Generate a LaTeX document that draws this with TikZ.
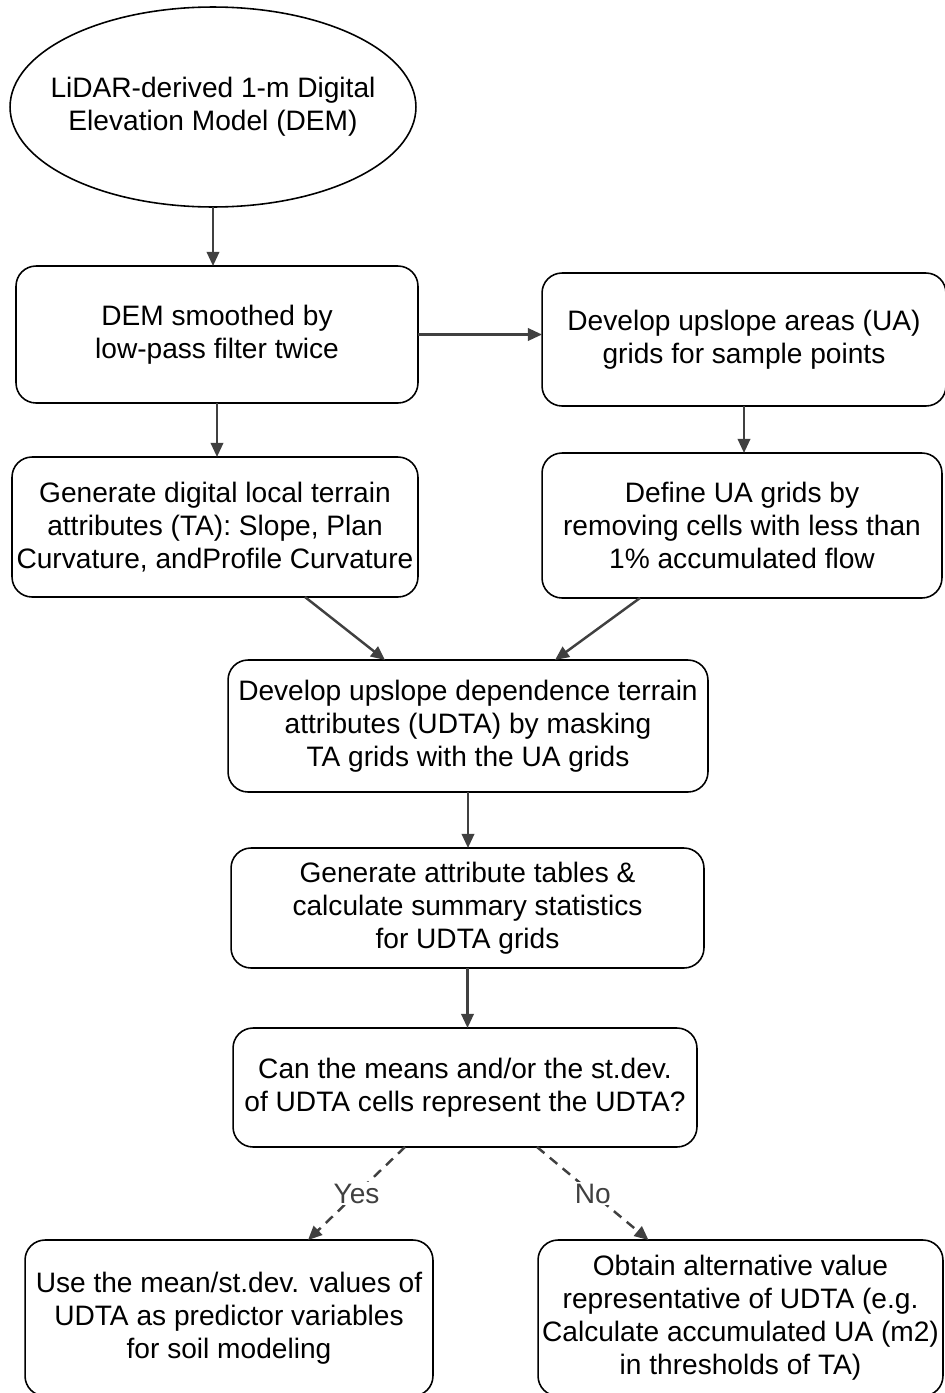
\documentclass[tikz,border=0pt]{standalone}
\usepackage{fontspec}
\setmainfont{Liberation Sans}
\usetikzlibrary{arrows.meta,shapes.geometric}
\tikzset{
  stepbox/.style={draw,rounded corners=0.4cm,line width=0.9pt,align=center,inner sep=0pt,outer sep=0pt,
    font=\fontsize{16pt}{18.8pt}\selectfont},
  flow/.style={line width=1.4pt,draw=black!75,-{Triangle[length=8pt,width=7pt]}},
  choice/.style={flow,dash pattern=on 5.5pt off 4pt}
}
\begin{document}
\begin{tikzpicture}[x=0.02cm,y=-0.02cm]
\useasboundingbox (0,0) rectangle (945,1393);
\node[draw,ellipse,line width=0.9pt,minimum width=8.12cm,minimum height=4cm,inner xsep=-0.4cm,inner ysep=0pt,outer sep=0pt,align=center,
  font=\fontsize{16pt}{18.8pt}\selectfont] (dem) at (213,107) {LiDAR-derived 1-m Digital\\Elevation Model (DEM)};
\node[stepbox,minimum width=8.04cm,minimum height=2.74cm] (smooth) at (217,334.5) {DEM smoothed by\\low-pass filter twice};
\node[stepbox,minimum width=8.08cm,minimum height=2.66cm] (ua) at (744,339.5) {Develop upslope areas (UA)\\grids for sample points};
\node[stepbox,minimum width=8.12cm,minimum height=2.8cm] (ta) at (215,527) {Generate digital local terrain\\attributes (TA): Slope, Plan\\Curvature, andProfile Curvature};
\node[stepbox,minimum width=8cm,minimum height=2.9cm] (uagrid) at (742,525.5) {Define UA grids by\\removing cells with less than\\1\% accumulated flow};
\node[stepbox,minimum width=9.6cm,minimum height=2.64cm] (udta) at (468,726) {Develop upslope dependence terrain\\attributes (UDTA) by masking\\TA grids with the UA grids};
\node[stepbox,minimum width=9.46cm,minimum height=2.4cm] (stats) at (467.5,908) {Generate attribute tables \&\\calculate summary statistics\\for UDTA grids};
\node[stepbox,minimum width=9.28cm,minimum height=2.38cm] (ask) at (465,1087.5) {Can the means and/or the st.dev.\\of UDTA cells represent the UDTA?};
\node[stepbox,minimum width=8.16cm,minimum height=3.12cm] (usemean) at (229,1318) {Use the mean/st.dev. values of\\UDTA as predictor variables\\for soil modeling};
\node[stepbox,minimum width=8.1cm,minimum height=3.12cm] (altval) at (740.5,1318) {Obtain alternative value\\representative of UDTA (e.g.\\Calculate accumulated UA (m2)\\in thresholds of TA)};
% connectors
\draw[flow] (dem.south) -- (dem.south |- smooth.north);
\draw[flow] (smooth.east) -- (smooth.east -| ua.west);
\draw[flow] (smooth.south) -- (smooth.south |- ta.north);
\draw[flow] (ua.south) -- (ua.south |- uagrid.north);
\draw[flow] ([xshift=1.8cm]ta.south) -- ([xshift=-1.66cm]udta.north);
\draw[flow] ([xshift=-2.04cm]uagrid.south) -- ([xshift=1.74cm]udta.north);
\draw[flow] (udta.south) -- (udta.south |- stats.north);
\draw[flow] (stats.south) -- (stats.south |- ask.north);
\draw[choice] ([xshift=-1.2cm]ask.south) -- node[fill=white,inner sep=1pt,font=\fontsize{16pt}{18.8pt}\selectfont,text=black!75] {Yes} ([xshift=1.58cm]usemean.north);
\draw[choice] ([xshift=1.44cm]ask.south) -- node[fill=white,inner sep=1pt,font=\fontsize{16pt}{18.8pt}\selectfont,text=black!75] {No} ([xshift=-1.84cm]altval.north);
\end{tikzpicture}
\end{document}
